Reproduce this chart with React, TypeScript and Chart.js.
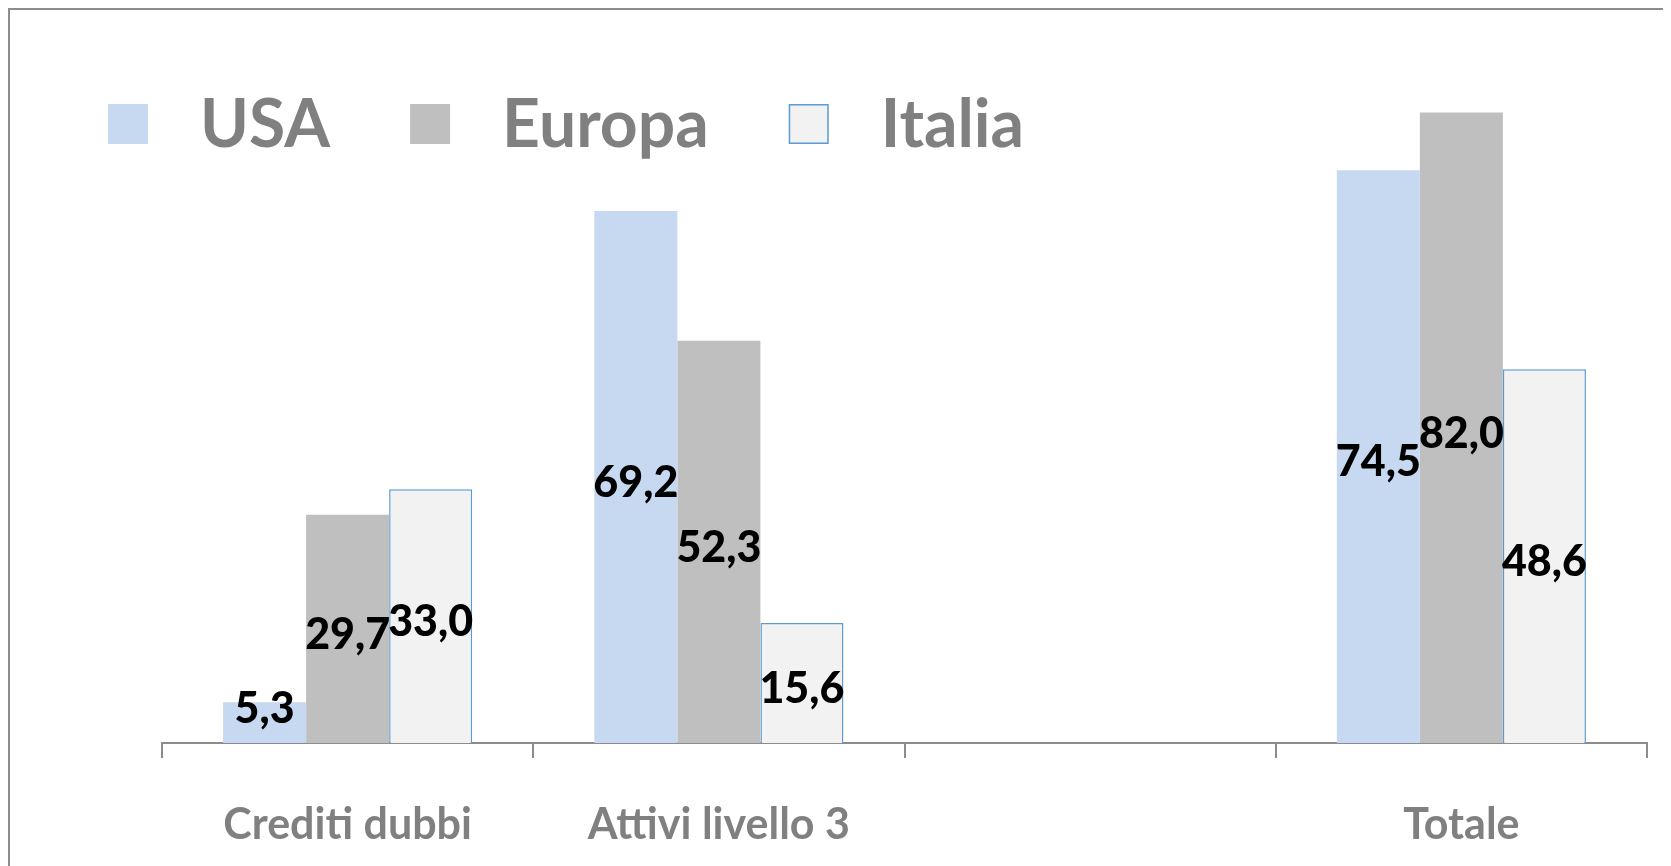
import React, { useEffect, useRef } from "react";
import { Chart, registerables } from "chart.js";

Chart.register(...registerables);

const categories = ["Crediti dubbi", "Attivi livello 3", "", "Totale"];
const seriesNames = ["USA", "Europa", "Italia"];
const usaValues = [5.3, 69.2, null, 74.5];
const europaValues = [29.7, 52.3, null, 82.0];
const italiaValues = [33.0, 15.6, null, 48.6];
const yMin = 0;
const yMax = 90;

const FONT = "Lato, 'Open Sans', sans-serif";

const legendPlugin = {
  id: "customLegend",
  afterDraw(chart: any) {
    const ctx = chart.ctx;
    const boxSize = 40;
    const gap = 52;
    const itemGap = 80;
    const cy = 114;
    let x = 98;
    ctx.save();
    ctx.font = `bold 66px ${FONT}`;
    ctx.textBaseline = "middle";
    ctx.textAlign = "left";
    chart.data.datasets.forEach((ds: any) => {
      ctx.fillStyle = ds.backgroundColor;
      ctx.fillRect(x, cy - boxSize / 2, boxSize, boxSize);
      if (ds.borderWidth) {
        ctx.strokeStyle = ds.borderColor;
        ctx.lineWidth = 1.5;
        ctx.strokeRect(x + 0.75, cy - boxSize / 2 + 0.75, boxSize - 1.5, boxSize - 1.5);
      }
      x += boxSize + gap;
      ctx.fillStyle = "#808080";
      ctx.fillText(ds.label, x, cy + 2);
      x += ctx.measureText(ds.label).width + itemGap;
    });
    ctx.restore();
  },
};

const valueLabelPlugin = {
  id: "valueLabels",
  afterDatasetsDraw(chart: any) {
    const ctx = chart.ctx;
    ctx.save();
    ctx.font = `900 43px ${FONT}`;
    ctx.fillStyle = "#000000";
    ctx.textAlign = "center";
    ctx.textBaseline = "middle";
    chart.data.datasets.forEach((ds: any, di: number) => {
      const meta = chart.getDatasetMeta(di);
      meta.data.forEach((bar: any, i: number) => {
        const v = ds.data[i];
        if (v === null || v === undefined) return;
        const center = (bar.y + bar.base) / 2;
        const y = Math.min(center + 6, bar.base - 34);
        ctx.fillText(v.toFixed(1).replace(".", ","), bar.x, y);
      });
    });
    ctx.restore();
  },
};

export default function App() {
  const ref = useRef<HTMLCanvasElement | null>(null);
  useEffect(() => {
    if (!ref.current) return;
    const chart = new Chart(ref.current, {
      type: "bar",
      data: {
        labels: categories,
        datasets: [
          {
            label: seriesNames[0],
            data: usaValues,
            backgroundColor: "#C6D9F1",
            borderWidth: 0,
          },
          {
            label: seriesNames[1],
            data: europaValues,
            backgroundColor: "#BFBFBF",
            borderWidth: 0,
          },
          {
            label: seriesNames[2],
            data: italiaValues,
            backgroundColor: "#F2F2F2",
            borderColor: "#5B9BD5",
            borderWidth: 1.5,
          },
        ] as any,
      },
      options: {
        responsive: false,
        animation: false,
        devicePixelRatio: 1,
        layout: { padding: { left: 152, right: 24, top: 41, bottom: 0 } },
        datasets: {
          bar: { categoryPercentage: 0.671, barPercentage: 1.0 },
        },
        plugins: {
          legend: { display: false },
          tooltip: { enabled: false },
        },
        scales: {
          x: {
            grid: {
              drawOnChartArea: false,
              drawTicks: true,
              tickLength: 15,
              color: "#8C8C8C",
              lineWidth: 2,
            },
            border: { display: true, color: "#8C8C8C", width: 2 },
            ticks: {
              font: { family: FONT, size: 43, weight: "bold" },
              color: "#808080",
              padding: 41,
              maxRotation: 0,
              autoSkip: false,
            },
            afterFit: (scale: any) => {
              scale.height = 123;
            },
          },
          y: {
            display: false,
            min: yMin,
            max: yMax,
          },
        },
      },
      plugins: [valueLabelPlugin, legendPlugin],
    });
    return () => chart.destroy();
  }, []);

  return (
    <div
      style={{
        width: 1663,
        height: 858,
        boxSizing: "border-box",
        borderTop: "2px solid #8C8C8C",
        borderLeft: "2px solid #8C8C8C",
        background: "#FFFFFF",
      }}
    >
      <canvas ref={ref} width={1661} height={856} style={{ display: "block", width: 1661, height: 856 }} />
    </div>
  );
}
